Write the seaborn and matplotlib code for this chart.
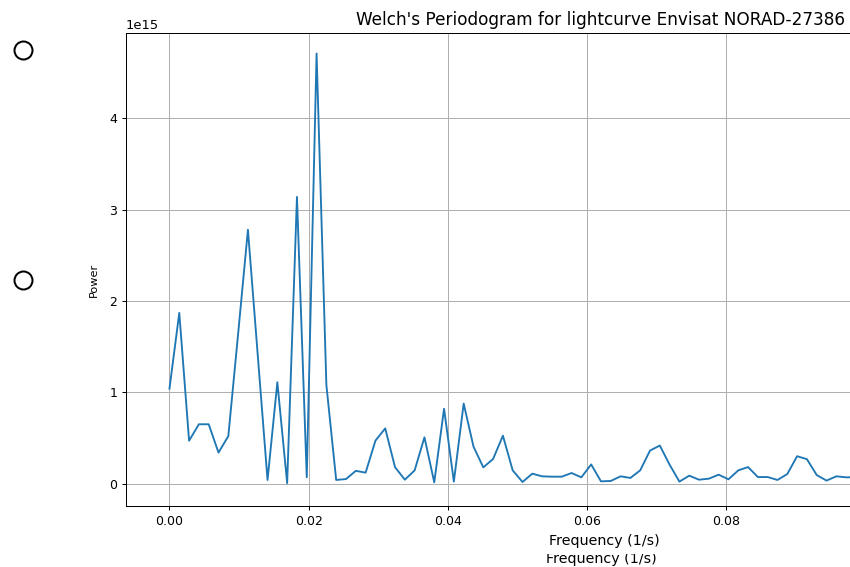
#!/usr/bin/env python3

import numpy as np
import seaborn as sns
import matplotlib
matplotlib.use('Agg')
import matplotlib.pyplot as plt
from matplotlib.lines import Line2D
from matplotlib.patches import Rectangle

# Welch periodogram values (units of 1e15)
power = [1.04, 1.87, 0.47, 0.65, 0.65, 0.34, 0.52, 1.64, 2.78, 1.41,
         0.04, 1.11, 0.005, 3.14, 0.07, 4.71, 1.08, 0.04, 0.05, 0.14,
         0.12, 0.47, 0.605, 0.18, 0.043, 0.145, 0.507, 0.014, 0.82, 0.022,
         0.877, 0.406, 0.178, 0.27, 0.525, 0.145, 0.018, 0.109, 0.08, 0.076,
         0.076, 0.116, 0.069, 0.21, 0.025, 0.029, 0.08, 0.062, 0.145, 0.362,
         0.417, 0.207, 0.022, 0.087, 0.043, 0.054, 0.098, 0.047, 0.145, 0.181,
         0.072, 0.072, 0.04, 0.105, 0.30, 0.268, 0.094, 0.033, 0.08, 0.069,
         0.07]
freq_step = 0.001409  # spacing of the frequency bins (1/s)
power_scale = 1e15
x_ticks = [0.0, 0.02, 0.04, 0.06, 0.08]

title = "Welch's Periodogram for lightcurve Envisat NORAD-27386"
x_label = 'Frequency (1/s)'
y_label = 'Power'


def main():
    freq = np.arange(len(power)) * freq_step
    values = np.array(power) * power_scale

    dpi = 90
    fig = plt.figure(figsize=(850 / dpi, 567 / dpi), dpi=dpi)
    # the screenshot is cropped: the axes run past the right edge
    ax = fig.add_axes([0.1482, 0.1076, 1.1259, 0.8342])

    sns.lineplot(x=freq, y=values, ax=ax, color='#1f77b4', linewidth=1.5)

    ax.set_xlim(-0.00625, 0.13125)
    ax.set_ylim(-0.245e15, 4.935e15)
    ax.set_xticks(x_ticks)
    ax.grid(True)
    ax.set_title(title, fontsize=13.5, x=0.4958)
    ax.set_xlabel(x_label, fontsize=11.4, labelpad=5)
    ax.set_ylabel(y_label, fontsize=9)
    ax.yaxis.set_label_coords(-0.0282, 0.478)
    ax.yaxis.get_offset_text().set_fontsize(10.5)

    # second, partly hidden copy of the x label below the first one
    fig.text(0.707, 0.007, x_label, ha='center', va='baseline',
             fontsize=11.4, zorder=-2, transform=fig.transFigure)
    fig.add_artist(Rectangle((0.55, 13 / 567), 0.3, 14 / 567,
                             transform=fig.transFigure, facecolor='white',
                             edgecolor='none', zorder=-1))

    # the two hollow circles at the left edge
    for y in (0.9115, 0.5067):
        fig.add_artist(Line2D([0.0274], [y], marker='o', markersize=14.4,
                              markerfacecolor='none', markeredgecolor='black',
                              markeredgewidth=1.6, transform=fig.transFigure))

    fig.savefig('out.png', dpi=dpi)


if __name__ == '__main__':
    main()
